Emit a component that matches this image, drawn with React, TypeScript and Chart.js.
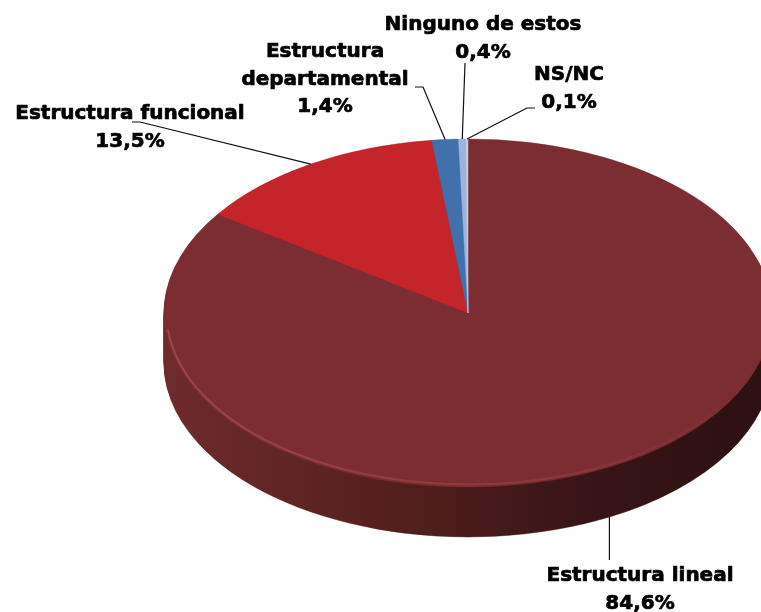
import React, { useEffect, useRef } from 'react';
import { Chart, registerables } from 'chart.js';

Chart.register(...registerables);

// ---- data ----
const categories = ['Estructura lineal', 'Estructura funcional', 'Estructura departamental', 'Ninguno de estos', 'NS/NC'];
const values = [84.6, 13.5, 1.4, 0.4, 0.1];
const percentLabels = ['84,6%', '13,5%', '1,4%', '0,4%', '0,1%'];
const topColors = ['#7B2D31', '#C4252B', '#4270AB', '#9DB3DE', '#C8D3E6'];
const sideColors = [
  ['#6e2b2e', '#57211f', '#3b1517', '#2c1012'],
  ['#8a1a1e', '#6a1417', '#4a0e10', '#3a0b0d'],
  ['#2e5080', '#243f66', '#1a2e4a', '#14243a'],
  ['#7085a6', '#5a6b86', '#46536a', '#3a4456'],
  ['#9aa3b3', '#7d8593', '#626873', '#51565f'],
];

// ---- layout (positions/styles, not data) ----
const W = 761;
const H = 612;
const ELL = { cx: 468, cy: 313, rx: 304, ry: 174, depth: 50 };
const FONT = 'bold 20px "DejaVu Sans"';
const LINE_H = 27.5;
const labelLayout = [
  { nameLines: ['Estructura lineal'], x: 640, y: 576, leader: [[null, 560]] },
  { nameLines: ['Estructura funcional'], x: 130, y: 114, leader: [[140, 122], [132, 122]] },
  { nameLines: ['Estructura', 'departamental'], x: 325, y: 52, leader: [[423, 87], [415, 87]] },
  { nameLines: ['Ninguno de estos'], x: 483, y: 25, leader: [[465, 63]] },
  { nameLines: ['NS/NC'], x: 569, y: 75, leader: [[527, 108], [535, 108]] },
];

const pie3d = {
  id: 'pie3d',
  beforeDatasetsDraw(chart: any) {
    const meta = chart.getDatasetMeta(0);
    const arcs = meta.data as any[];
    if (!arcs.length) return;
    const { x: cx, y: cy, outerRadius: r } = arcs[0].getProps(['x', 'y', 'outerRadius'], true);
    const ctx: CanvasRenderingContext2D = chart.ctx;
    const sx = ELL.rx / r;
    const sy = ELL.ry / r;

    // side walls (stacked layers of the library's arcs)
    for (let d = ELL.depth; d >= 1; d--) {
      ctx.save();
      ctx.translate(ELL.cx, ELL.cy + d);
      ctx.scale(sx, sy);
      ctx.translate(-cx, -cy);
      arcs.forEach((arc, i) => {
        const g = ctx.createLinearGradient(cx - r, 0, cx + r, 0);
        const cols = sideColors[i];
        cols.forEach((c, k) => g.addColorStop(k / (cols.length - 1), c));
        const fake = Object.create(arc);
        fake.options = { ...arc.options, backgroundColor: g, borderColor: g };
        arc.draw.call(fake, ctx);
      });
      ctx.restore();
    }

    // top surface
    ctx.save();
    ctx.translate(ELL.cx, ELL.cy);
    ctx.scale(sx, sy);
    ctx.translate(-cx, -cy);
    arcs.forEach((arc) => arc.draw(ctx));
    ctx.restore();

    // soft rim highlight on the front edge
    ctx.save();
    const hg = ctx.createLinearGradient(ELL.cx + ELL.rx, 0, ELL.cx - ELL.rx, 0);
    hg.addColorStop(0, 'rgba(170,80,85,0)');
    hg.addColorStop(0.4, 'rgba(170,80,85,0.35)');
    hg.addColorStop(1, 'rgba(180,90,95,0.55)');
    ctx.strokeStyle = hg;
    ctx.lineWidth = 2;
    ctx.beginPath();
    ctx.ellipse(ELL.cx, ELL.cy, ELL.rx - 2.5, ELL.ry - 2.5, 0, Math.PI * 0.2, Math.PI * 0.97);
    ctx.stroke();
    ctx.restore();

    // leader lines and labels
    ctx.save();
    ctx.strokeStyle = '#111';
    ctx.lineWidth = 1.2;
    ctx.fillStyle = '#000';
    ctx.font = FONT;
    ctx.textAlign = 'center';
    ctx.textBaseline = 'middle';
    arcs.forEach((arc, i) => {
      const { startAngle, endAngle } = arc.getProps(['startAngle', 'endAngle'], true);
      const mid = (startAngle + endAngle) / 2;
      const ax = ELL.cx + ELL.rx * Math.cos(mid);
      let ay = ELL.cy + ELL.ry * Math.sin(mid);
      if (Math.sin(mid) > 0.2) ay += ELL.depth;
      const lay = labelLayout[i];
      ctx.strokeStyle = '#111';
      ctx.lineWidth = 1.2;
      ctx.beginPath();
      ctx.moveTo(ax, ay);
      lay.leader.forEach(([px, py]) => ctx.lineTo(px === null ? ax : (px as number), py as number));
      ctx.stroke();
      const lines = [...lay.nameLines, percentLabels[i]];
      ctx.strokeStyle = '#000';
      ctx.lineWidth = 0.7;
      ctx.lineJoin = 'round';
      lines.forEach((t, k) => {
        ctx.fillText(t, lay.x, lay.y + k * LINE_H);
        ctx.strokeText(t, lay.x, lay.y + k * LINE_H);
      });
    });
    ctx.restore();
    return false;
  },
};

export default function App() {
  const ref = useRef<HTMLCanvasElement>(null);
  useEffect(() => {
    if (!ref.current) return;
    const chart = new Chart(ref.current, {
      type: 'pie',
      data: {
        labels: categories,
        datasets: [
          {
            data: values,
            backgroundColor: topColors,
            borderColor: topColors,
            borderWidth: 0.6,
            clip: false as any,
          },
        ],
      },
      options: {
        responsive: false,
        maintainAspectRatio: false,
        animation: false,
        rotation: 0,
        layout: { padding: 0 },
        plugins: { legend: { display: false }, tooltip: { enabled: false } },
        events: [],
      },
      plugins: [pie3d],
    });
    return () => chart.destroy();
  }, []);
  return (
    <div style={{ position: 'fixed', left: 0, top: 0, width: W, height: H, background: '#fff' }}>
      <canvas ref={ref} width={W} height={H} style={{ display: 'block' }} />
    </div>
  );
}
